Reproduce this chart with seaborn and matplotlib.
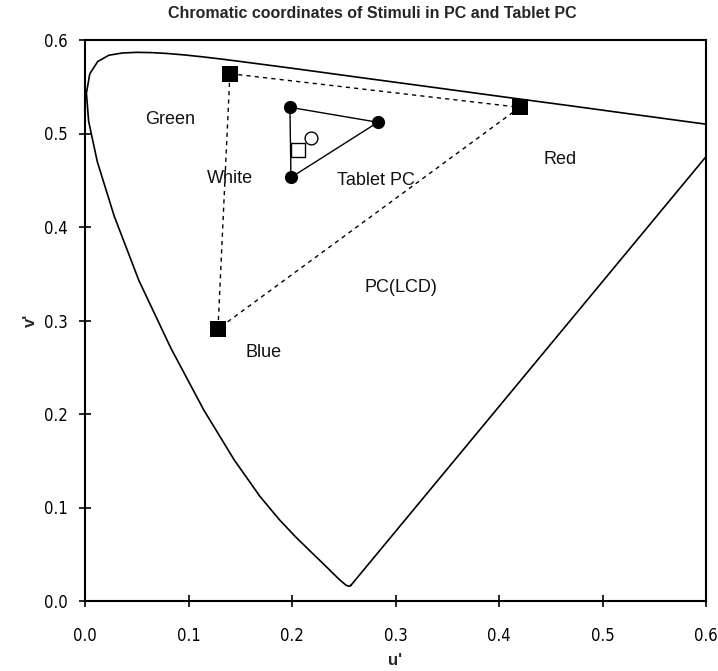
import matplotlib
matplotlib.use("Agg")
import matplotlib.pyplot as plt
import seaborn as sns
import pandas as pd

# Spectral locus (CIE 1976 u', v'), 380-700 nm
locus_u = [0.2568, 0.2557, 0.2545, 0.2522, 0.2461, 0.2347, 0.2266, 0.2161, 0.2033,
           0.1877, 0.1690, 0.1441, 0.1147, 0.0828, 0.0521, 0.0282, 0.0119, 0.0035,
           0.0014, 0.0046, 0.0123, 0.0231, 0.0360, 0.0501, 0.0643, 0.0792, 0.0953,
           0.1127, 0.1319, 0.1531, 0.2026, 0.2623, 0.3315, 0.4035, 0.4692, 0.5203,
           0.5565, 0.5830, 0.6005, 0.6109, 0.6234, 0.2568]
locus_v = [0.0166, 0.0159, 0.0159, 0.0169, 0.0226, 0.0350, 0.0437, 0.0549, 0.0688,
           0.0871, 0.1119, 0.1510, 0.2044, 0.2708, 0.3427, 0.4117, 0.4698, 0.5131,
           0.5432, 0.5638, 0.5770, 0.5837, 0.5861, 0.5868, 0.5865, 0.5856, 0.5841,
           0.5821, 0.5796, 0.5766, 0.5694, 0.5604, 0.5501, 0.5393, 0.5296, 0.5219,
           0.5165, 0.5125, 0.5099, 0.5084, 0.5065, 0.0166]

# PC (LCD) primaries: Green, Red, Blue
pc_u = [0.140, 0.420, 0.1285]
pc_v = [0.564, 0.528, 0.291]
# Tablet PC primaries: Green, Red, Blue
tab_u = [0.198, 0.283, 0.199]
tab_v = [0.528, 0.512, 0.453]
# White points
pc_white = (0.206, 0.482)
tab_white = (0.218, 0.495)

labels = ["Green", "White", "Tablet PC", "Red", "PC(LCD)", "Blue"]
label_u = [0.082, 0.140, 0.281, 0.459, 0.305, 0.173]
label_v = [0.515, 0.452, 0.450, 0.472, 0.335, 0.266]

tick_vals = [0.0, 0.1, 0.2, 0.3, 0.4, 0.5, 0.6]
tick_labels = ["0.0", "0.1", "0.2", "0.3", "0.4", "0.5", "0.6"]

sns.set_style("white")
plt.rcParams['font.family'] = ['Liberation Sans', 'DejaVu Sans']

fig = plt.figure(figsize=(7.18, 6.71), dpi=100)
ax = fig.add_axes([85/718, 70/671, 621/718, 561/671])

locus = pd.DataFrame({"u": locus_u, "v": locus_v})
sns.lineplot(data=locus, x="u", y="v", sort=False, estimator=None, color="black",
             linewidth=1.2, ax=ax)

pc = pd.DataFrame({"u": pc_u + pc_u[:1], "v": pc_v + pc_v[:1]})
sns.lineplot(data=pc, x="u", y="v", sort=False, estimator=None, color="black",
             linewidth=1.0, ax=ax, linestyle=(0, (3, 3)))
sns.scatterplot(x=pc_u, y=pc_v, marker="s", s=120, color="black", edgecolor="black",
                linewidth=0, ax=ax, zorder=5)

tab = pd.DataFrame({"u": tab_u + tab_u[:1], "v": tab_v + tab_v[:1]})
sns.lineplot(data=tab, x="u", y="v", sort=False, estimator=None, color="black",
             linewidth=1.0, ax=ax)
sns.scatterplot(x=tab_u, y=tab_v, marker="o", s=90, color="black", edgecolor="black",
                linewidth=0, ax=ax, zorder=5)

sns.scatterplot(x=[pc_white[0]], y=[pc_white[1]], marker="s", s=110, facecolor="white",
                edgecolor="black", linewidth=1.0, ax=ax, zorder=6)
sns.scatterplot(x=[tab_white[0]], y=[tab_white[1]], marker="o", s=85, facecolor="white",
                edgecolor="black", linewidth=1.0, ax=ax, zorder=6)

for t, u, v in zip(labels, label_u, label_v):
    ax.text(u, v, t, ha="center", va="center", fontsize=13, color="#111111")

ax.set_xlim(0, 0.6)
ax.set_ylim(0, 0.6)
ax.set_xticks(tick_vals)
ax.set_yticks(tick_vals)
ax.set_xticklabels(tick_labels)
ax.set_yticklabels(tick_labels)
ax.tick_params(bottom=True, left=True, top=False, right=False, direction="inout",
               length=9, width=1.2, labelsize=12, colors="black")
ax.tick_params(axis="x", pad=14)
ax.tick_params(axis="y", pad=8)
for lab in ax.get_xticklabels() + ax.get_yticklabels():
    lab.set_fontstretch("condensed")
    lab.set_family(["DejaVu Sans"])
for sp in ax.spines.values():
    sp.set_visible(True)
    sp.set_color("black")
    sp.set_linewidth(1.5)

ax.set_xlabel("u'", fontsize=12, fontweight="bold")
ax.set_ylabel("v'", fontsize=12, fontweight="bold")
ax.xaxis.set_label_coords(0.5, -0.092)
ax.yaxis.set_label_coords(-0.075, 0.5)

fig.text(372/718, 1 - 13/671, "Chromatic coordinates of Stimuli in PC and Tablet PC",
         ha="center", va="center", fontsize=11.5, fontweight="bold")

fig.savefig("out.png", dpi=100, facecolor="white")
